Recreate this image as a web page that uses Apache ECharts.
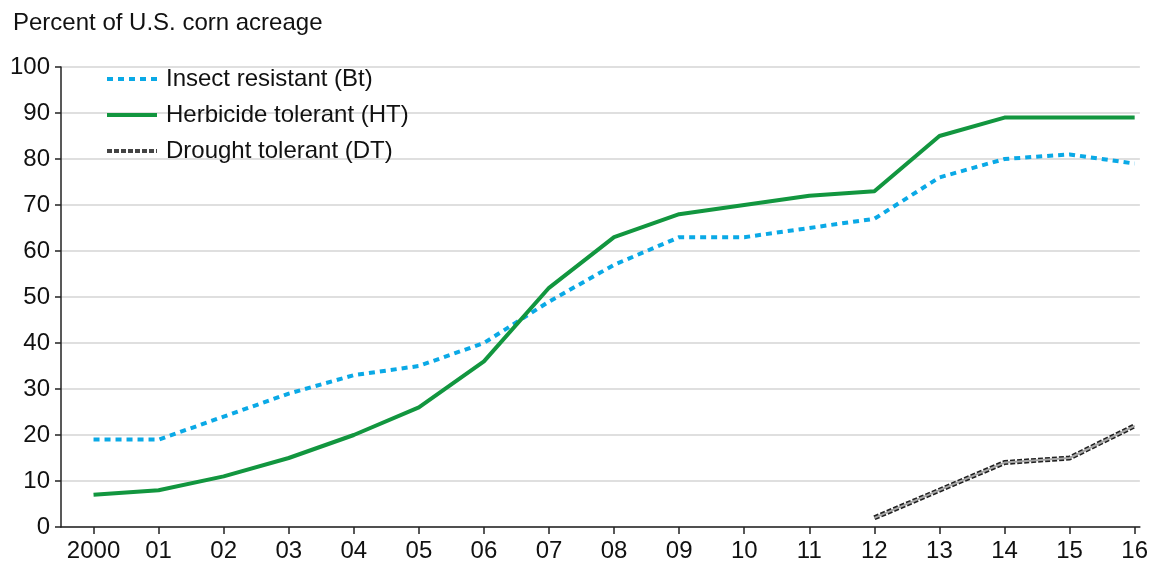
<!DOCTYPE html>
<html><head><meta charset="utf-8">
<script src="https://cdn.jsdelivr.net/npm/echarts@6/dist/echarts.min.js"></script>
<style>html,body{margin:0;padding:0;background:#fff}#c{width:1151px;height:564px}</style>
</head><body><div id="c"></div>
<script>
const yearLabels = ['2000','01','02','03','04','05','06','07','08','09','10','11','12','13','14','15','16'];
const btValues = [19,19,24,29,33,35,40,49,57,63,63,65,67,76,80,81,79];
const htValues = [7,8,11,15,20,26,36,52,63,68,70,72,73,85,89,89,89];
const dtValues = [null,null,null,null,null,null,null,null,null,null,null,null,2,8,14,15,22];
const yTicks = [0,10,20,30,40,50,60,70,80,90,100];

const idx = yearLabels.map((_, i) => i);
const pairs = arr => arr.map((v, i) => [i, v]);
const FONT = 'Liberation Sans, Arial, sans-serif';

const chart = echarts.init(document.getElementById('c'), null, {renderer: 'canvas'});
chart.setOption({
  animation: false,
  textStyle: {fontFamily: FONT},
  title: {
    text: 'Percent of U.S. corn acreage', left: 8, top: 6,
    textStyle: {fontSize: 24, fontWeight: 'normal', color: '#111', fontFamily: FONT}
  },
  grid: {left: 61, right: 11, top: 67, bottom: 37},
  legend: {
    orient: 'vertical', left: 100, top: 62, itemWidth: 50, itemHeight: 14, itemGap: 12,
    itemStyle: {opacity: 0},
    textStyle: {fontSize: 24, color: '#111', fontFamily: FONT, padding: [0,0,0,4]},
    data: [
      {name: 'Insect resistant (Bt)', lineStyle: {color: '#0aa9e6', width: 4, type: [6, 5]}},
      {name: 'Herbicide tolerant (HT)', lineStyle: {color: '#12963f', width: 4}},
      {name: 'Drought tolerant (DT)', lineStyle: {color: '#444', width: 4, type: [5, 2]}}
    ]
  },
  xAxis: {
    type: 'value', min: -0.5, max: 16.08,
    axisLine: {show: true, lineStyle: {color: '#222', width: 1.5}},
    axisTick: {show: true, customValues: idx, length: 7, lineStyle: {color: '#222', width: 1.5}},
    axisLabel: {
      customValues: idx, fontSize: 24, color: '#111', margin: 12, fontFamily: FONT,
      formatter: v => yearLabels[Math.round(v)]
    },
    splitLine: {show: false}
  },
  yAxis: {
    type: 'value', min: 0, max: 100, interval: 10,
    axisLine: {show: true, onZero: false, lineStyle: {color: '#222', width: 1.5}},
    axisTick: {show: true, length: 6, lineStyle: {color: '#222', width: 1.5}},
    axisLabel: {fontSize: 24, color: '#111', margin: 11, fontFamily: FONT,
      formatter: v => yTicks.includes(v) ? String(v) : ''},
    splitLine: {show: true, lineStyle: {color: '#d4d4d4', width: 1.5}}
  },
  series: [
    {name: 'Insect resistant (Bt)', type: 'line', data: pairs(btValues), symbol: 'none',
     lineStyle: {color: '#0aa9e6', width: 4, type: [6, 5]}, itemStyle: {color: '#0aa9e6'}, z: 3},
    {name: 'Herbicide tolerant (HT)', type: 'line', data: pairs(htValues), symbol: 'none',
     lineStyle: {color: '#12963f', width: 4}, itemStyle: {color: '#12963f'}, z: 4},
    {name: 'Drought tolerant (DT)', type: 'line', data: pairs(dtValues), symbol: 'none',
     connectNulls: false,
     lineStyle: {color: '#222', width: 5, type: [5, 2]}, itemStyle: {color: '#222'}, z: 5},
    {name: 'DT fill', type: 'line', data: pairs(dtValues), symbol: 'none',
     lineStyle: {color: '#a8a8a8', width: 2}, itemStyle: {color: '#a8a8a8'}, z: 6}
  ]
});
</script></body></html>
